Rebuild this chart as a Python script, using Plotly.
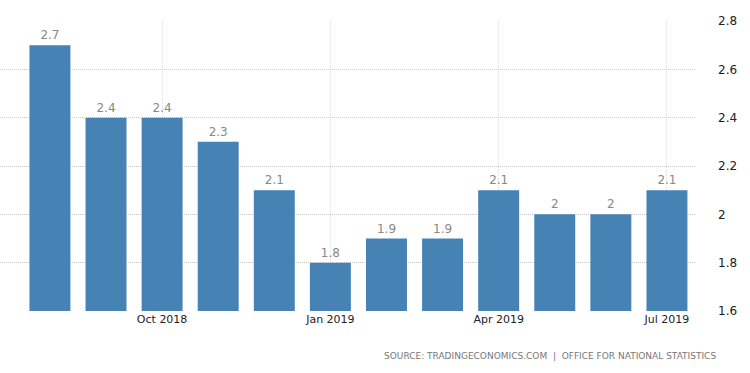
import plotly.graph_objects as go

months = ["Aug 2018", "Sep 2018", "Oct 2018", "Nov 2018", "Dec 2018", "Jan 2019",
          "Feb 2019", "Mar 2019", "Apr 2019", "May 2019", "Jun 2019", "Jul 2019"]
values = [2.7, 2.4, 2.4, 2.3, 2.1, 1.8, 1.9, 1.9, 2.1, 2.0, 2.0, 2.1]
tick_labels = ["Oct 2018", "Jan 2019", "Apr 2019", "Jul 2019"]
y_ticks = [1.6, 1.8, 2.0, 2.2, 2.4, 2.6, 2.8]
y_base = 1.6

x = list(range(len(months)))
tick_pos = [months.index(t) for t in tick_labels]

fig = go.Figure()
fig.add_trace(go.Bar(
    x=x, y=[v - y_base for v in values],
    base=y_base,
    marker=dict(color="#4682B4", line=dict(width=0)),
    width=0.73,
    text=[f"{v:g}" for v in values],
    textposition="outside",
    textfont=dict(color="#888888", size=12),
    cliponaxis=False,
    hovertext=months,
))

fig.update_layout(
    width=750, height=373,
    margin=dict(l=0, r=55, t=21, b=62),
    paper_bgcolor="white", plot_bgcolor="white",
    font=dict(family="DejaVu Sans", size=12, color="#222222"),
    showlegend=False,
    bargap=0.27,
)
fig.update_xaxes(
    range=[-0.89, 11.5],
    tickvals=tick_pos, ticktext=tick_labels,
    showgrid=True, gridcolor="#dddddd", griddash="1px,1px", gridwidth=1,
    zeroline=False, showline=False,
    tickfont=dict(size=11, color="#222222"),
    ticks="", automargin=False,
)
fig.update_yaxes(
    range=[1.6, 2.8],
    side="right",
    tickvals=y_ticks, ticktext=[f"{t:g}" for t in y_ticks],
    showgrid=True, gridcolor="#c8c8c8", griddash="1px,1px", gridwidth=1,
    zeroline=False, showline=False,
    ticklabelstandoff=22,
    tickfont=dict(size=12, color="#222222"),
    automargin=False,
)
fig.add_annotation(
    text="SOURCE: TRADINGECONOMICS.COM  |  OFFICE FOR NATIONAL STATISTICS",
    xref="paper", yref="paper", x=1.033, y=-0.13,
    xanchor="right", yanchor="top", showarrow=False,
    font=dict(size=9, color="#777777", family="DejaVu Sans"),
)
fig.write_html("out.html", config={"displayModeBar": False},
               post_script="document.body.style.margin='0';")
